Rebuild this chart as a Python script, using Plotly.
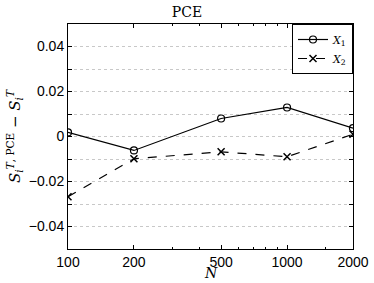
import plotly.graph_objects as go

N = [100, 200, 500, 1000, 2000]
x1_vals = [0.0018, -0.0062, 0.0080, 0.0129, 0.0037]
x2_vals = [-0.0268, -0.0099, -0.0068, -0.0090, 0.0010]
series_names = ["<i>X</i><sub>1</sub>", "<i>X</i><sub>2</sub>"]
y_tickvals = [-0.05, -0.04, -0.03, -0.02, -0.01, 0, 0.01, 0.02, 0.03, 0.04, 0.05]
y_ticktext = ["", "\u22120.04", "", "\u22120.02", "", "0", "", "0.02", "", "0.04", ""]
x_tickvals = [100, 200, 500, 1000, 2000]
x_ticktext = ["100", "200", "500", "1000", "2000"]
x_minor = [300, 400, 600, 700, 800, 900, 1500]

fig = go.Figure()
fig.add_trace(go.Scatter(
    x=N, y=x1_vals, name=series_names[0], mode="lines+markers",
    line=dict(color="black", width=1.2, dash="solid"),
    marker=dict(symbol="circle-open", size=7, color="black", line=dict(width=1.2)),
))
fig.add_trace(go.Scatter(
    x=N, y=x2_vals, name=series_names[1], mode="lines+markers",
    line=dict(color="black", width=1.2, dash="dash"),
    marker=dict(symbol="x-thin-open", size=7, color="black", line=dict(width=1.5, color="black")),
))

fig.update_layout(
    width=374, height=283,
    margin=dict(l=68, r=21, t=24, b=34, autoexpand=False),
    paper_bgcolor="white", plot_bgcolor="white",
    title=dict(text="PCE", x=0.5, xanchor="center", y=1 - 12 / 283, yanchor="middle", automargin=False,
               font=dict(family="DejaVu Serif, serif", size=14, color="black")),
    showlegend=True,
    legend=dict(x=1, y=1, xanchor="right", yanchor="top",
                bgcolor="white", bordercolor="black", borderwidth=1,
                font=dict(family="DejaVu Serif, serif", size=11, color="black"),
                tracegroupgap=0, itemwidth=30,
                ),
    font=dict(family="Liberation Sans, Arial, sans-serif", size=14, color="black"),
    annotations=[dict(text="<i>N</i>", x=0.5, xref="paper", y=0, yref="paper",
                      xanchor="center", yanchor="bottom", yshift=-34, showarrow=False,
                      font=dict(family="DejaVu Serif, serif", size=14, color="black"))],
)

fig.update_xaxes(
    type="log", range=[2, 3.30103],
    tickmode="array", tickvals=x_tickvals, ticktext=x_ticktext,
    ticks="inside", ticklen=4, tickcolor="black",
    showline=True, linecolor="black", linewidth=1, mirror="ticks",
    showgrid=False, zeroline=False, automargin=False,
    minor=dict(ticks="inside", ticklen=2, tickcolor="black", tickvals=x_minor, showgrid=False),
    tickfont=dict(size=14),
)
fig.update_yaxes(
    range=[-0.05, 0.05],
    tickmode="array", tickvals=y_tickvals, ticktext=y_ticktext,
    ticks="inside", ticklen=4, tickcolor="black",
    showline=True, linecolor="black", linewidth=1, mirror="ticks",
    showgrid=True, gridcolor="#c8c8c8", griddash="dot", gridwidth=1,
    zeroline=False, automargin=False,
    title=dict(text="<i>S</i><sub><i>i</i></sub><sup><i>T</i>, PCE</sup> \u2212 <i>S</i><sub><i>i</i></sub><sup><i>T</i></sup>",
               font=dict(family="DejaVu Serif, serif", size=15), standoff=4),
    tickfont=dict(size=14),
)

fig.write_html("out.html", config={"displayModeBar": False},
               post_script="document.body.style.margin='0';")
